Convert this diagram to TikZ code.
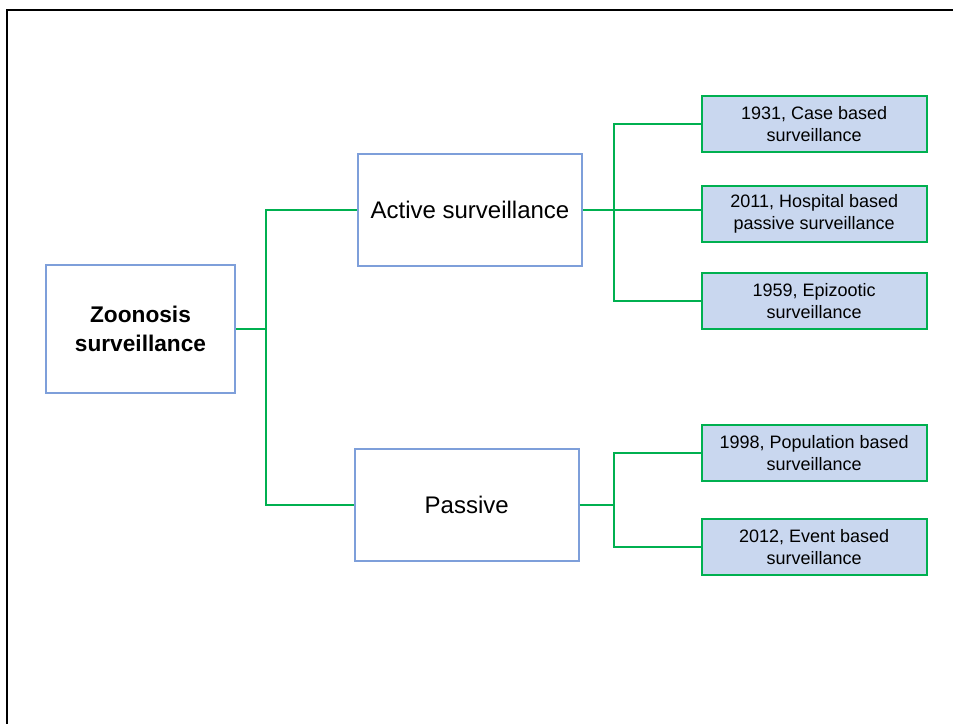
\documentclass[tikz,border=0pt]{standalone}
\usepackage{fontspec}
\setmainfont{Liberation Sans}
\usepackage{tikz}

\definecolor{caixaazul}{HTML}{7E9FDA}
\definecolor{fundoazul}{HTML}{C9D7EF}
\definecolor{linhaverde}{HTML}{00B050}

\begin{document}
\begin{tikzpicture}[x=0.75pt, y=-0.75pt]
\tikzstyle{raiz}=[rectangle, draw=caixaazul, line width=1.5pt, align=center, inner sep=0pt, minimum width=141.75pt, minimum height=96pt, font=\fontsize{17}{21.5}\selectfont\bfseries]
\tikzstyle{tipo}=[rectangle, draw=caixaazul, line width=1.5pt, align=center, inner sep=0pt, minimum width=168pt, minimum height=84pt, font=\fontsize{18}{22}\selectfont]
\tikzstyle{folha}=[rectangle, draw=linhaverde, fill=fundoazul, line width=1.5pt, align=center, inner sep=0pt, minimum width=168.75pt, minimum height=42pt, font=\fontsize{13.5}{16.5}\selectfont]
\tikzstyle{ramo}=[draw=linhaverde, line width=1.5pt]
\useasboundingbox (0,0) rectangle (953,724);
% moldura
\draw[line width=2.2pt] (7,724) -- (7,10) -- (953,10);
% caixas
\node[raiz] (zoo) at (140.5,329) {Zoonosis\\surveillance};
\node[tipo] (ativa) at (470,209.5) {Active surveillance};
\node[tipo] (passiva) at (466.7,505.3) {Passive};
\node[folha] (caso) at (814.2,124) {1931, Case based\\surveillance};
\node[folha] (hosp) at (814.2,213.5) {2011, Hospital based\\passive surveillance};
\node[folha] (epiz) at (814.2,301) {1959, Epizootic\\surveillance};
\node[folha] (popu) at (814.2,453) {1998, Population based\\surveillance};
\node[folha] (even) at (814.2,547) {2012, Event based\\surveillance};
% ligacoes
\coordinate (j1) at (266,329);
\coordinate (j2) at (614,209.5);
\coordinate (j3) at (614,505.3);
\draw[ramo] (zoo.east) -- (j1);
\draw[ramo] (j1) |- (ativa.west);
\draw[ramo] (j1) |- (passiva.west);
\draw[ramo] (ativa.east) -- (j2);
\draw[ramo] (j2) |- (caso.west);
\draw[ramo] (j2) -- (j2 -| hosp.west);
\draw[ramo] (j2) |- (epiz.west);
\draw[ramo] (passiva.east) -- (j3);
\draw[ramo] (j3) |- (popu.west);
\draw[ramo] (j3) |- (even.west);
\end{tikzpicture}
\end{document}
